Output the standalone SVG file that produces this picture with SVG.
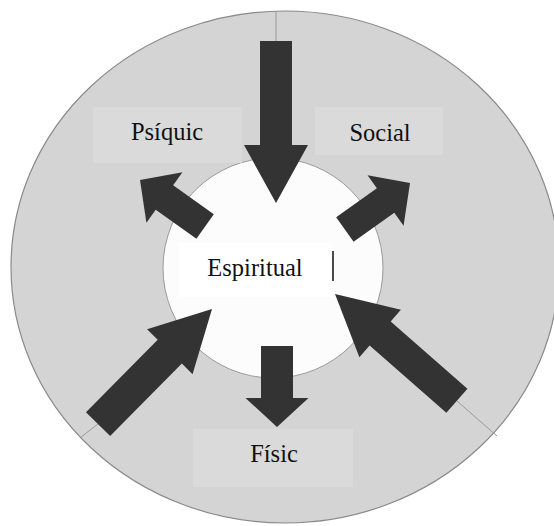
<svg xmlns="http://www.w3.org/2000/svg" width="554" height="526" viewBox="0 0 554 526">
  <style>
    .label { font-family: "Liberation Serif", "Times New Roman", serif; font-size: 24.5px; fill: #111; text-anchor: middle; }
    .box { fill: #dadada; }
    .arrow { fill: #333333; }
    .divider { stroke: #9a9a9a; stroke-width: 1; fill: none; }
  </style>
  <rect x="0" y="0" width="554" height="526" fill="#ffffff"/>
  <g id="outer-ring">
    <ellipse cx="285" cy="267" rx="274" ry="256" fill="#d4d4d4" stroke="#8a8a8a" stroke-width="1.2"/>
  </g>
  <g id="dividers">
    <line class="divider" x1="276" y1="11" x2="276" y2="42"/>
    <line class="divider" x1="81" y1="437" x2="98" y2="424"/>
    <line class="divider" x1="497" y1="436" x2="457" y2="401"/>
  </g>
  <g id="inner-circle">
    <circle cx="273" cy="268" r="110" fill="#fcfcfc" stroke="#9a9a9a" stroke-width="1"/>
  </g>
  <g id="node-psiquic">
    <rect class="box" x="93" y="107" width="149" height="56"/>
    <text class="label" x="167" y="140">Psíquic</text>
  </g>
  <g id="node-social">
    <rect class="box" x="315" y="107" width="128" height="48"/>
    <text class="label" x="380" y="141">Social</text>
  </g>
  <g id="node-fisic">
    <rect class="box" x="193" y="429" width="160" height="58"/>
    <text class="label" x="274" y="462">Físic</text>
  </g>
  <g id="connectors">
    <polygon class="arrow" transform="translate(276 203) rotate(90)" points="0,0 -58,-32 -58,-16 -162,-16 -162,16 -58,16 -58,32"/>
    <polygon class="arrow" transform="translate(140 180) rotate(215.5)" points="0,0 -30,-31 -30,-15 -80,-15 -80,15 -30,15 -30,31"/>
    <polygon class="arrow" transform="translate(410 183) rotate(-35.5)" points="0,0 -30,-31 -30,-15 -80,-15 -80,15 -30,15 -30,31"/>
    <polygon class="arrow" transform="translate(212 309) rotate(-45.3)" points="0,0 -60,-32 -60,-17 -162,-17 -162,17 -60,17 -60,32"/>
    <polygon class="arrow" transform="translate(335 294) rotate(221.2)" points="0,0 -60,-31.5 -60,-16 -162,-16 -162,16 -60,16 -60,31.5"/>
    <polygon class="arrow" transform="translate(277 427) rotate(90)" points="0,0 -29,-31.5 -29,-16 -81,-16 -81,16 -29,16 -29,31.5"/>
  </g>
  <g id="node-espiritual">
    <rect x="179" y="243" width="153" height="54" fill="#ffffff"/>
    <text class="label" x="255" y="276">Espiritual</text>
    <line x1="333" y1="251" x2="333" y2="281" stroke="#111" stroke-width="1.5"/>
  </g>
</svg>
